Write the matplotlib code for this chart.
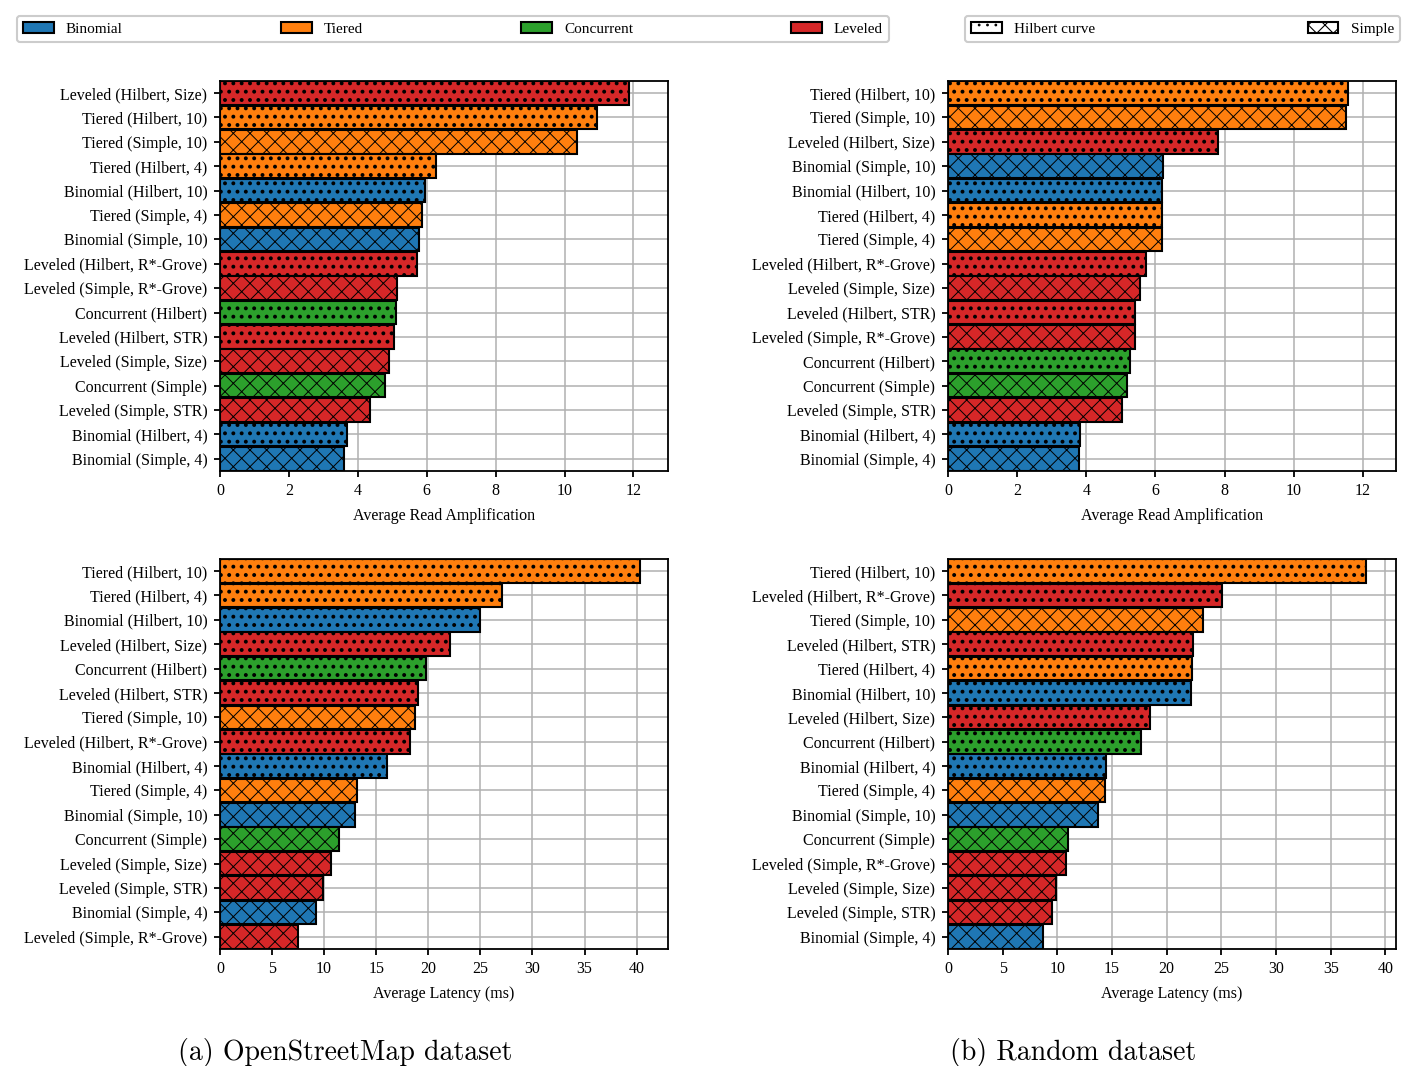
import matplotlib
matplotlib.use("Agg")
import matplotlib.pyplot as plt
from matplotlib.patches import Patch

plt.rcParams['font.family'] = ['Liberation Serif', 'DejaVu Serif']
plt.rcParams['font.size'] = 11.5
plt.rcParams['hatch.linewidth'] = 0.8

# Read amplification, OpenStreetMap dataset (top to bottom)
osm_read_labels = [
    "Leveled (Hilbert, Size)", "Tiered (Hilbert, 10)", "Tiered (Simple, 10)",
    "Tiered (Hilbert, 4)", "Binomial (Hilbert, 10)", "Tiered (Simple, 4)",
    "Binomial (Simple, 10)", "Leveled (Hilbert, R*-Grove)", "Leveled (Simple, R*-Grove)",
    "Concurrent (Hilbert)", "Leveled (Hilbert, STR)", "Leveled (Simple, Size)",
    "Concurrent (Simple)", "Leveled (Simple, STR)", "Binomial (Hilbert, 4)",
    "Binomial (Simple, 4)",
]
osm_read_values = [11.86, 10.95, 10.36, 6.28, 5.95, 5.85, 5.79, 5.71,
                   5.15, 5.12, 5.04, 4.90, 4.80, 4.34, 3.70, 3.60]

# Read amplification, Random dataset
rnd_read_labels = [
    "Tiered (Hilbert, 10)", "Tiered (Simple, 10)", "Leveled (Hilbert, Size)",
    "Binomial (Simple, 10)", "Binomial (Hilbert, 10)", "Tiered (Hilbert, 4)",
    "Tiered (Simple, 4)", "Leveled (Hilbert, R*-Grove)", "Leveled (Simple, Size)",
    "Leveled (Hilbert, STR)", "Leveled (Simple, R*-Grove)", "Concurrent (Hilbert)",
    "Concurrent (Simple)", "Leveled (Simple, STR)", "Binomial (Hilbert, 4)",
    "Binomial (Simple, 4)",
]
rnd_read_values = [11.57, 11.50, 7.80, 6.21, 6.19, 6.20, 6.19, 5.72,
                   5.56, 5.40, 5.41, 5.25, 5.17, 5.03, 3.81, 3.80]

# Latency, OpenStreetMap dataset
osm_lat_labels = [
    "Tiered (Hilbert, 10)", "Tiered (Hilbert, 4)", "Binomial (Hilbert, 10)",
    "Leveled (Hilbert, Size)", "Concurrent (Hilbert)", "Leveled (Hilbert, STR)",
    "Tiered (Simple, 10)", "Leveled (Hilbert, R*-Grove)", "Binomial (Hilbert, 4)",
    "Tiered (Simple, 4)", "Binomial (Simple, 10)", "Concurrent (Simple)",
    "Leveled (Simple, Size)", "Leveled (Simple, STR)", "Binomial (Simple, 4)",
    "Leveled (Simple, R*-Grove)",
]
osm_lat_values = [40.3, 27.1, 25.0, 22.1, 19.75, 19.05, 18.75, 18.25,
                  16.05, 13.2, 12.95, 11.4, 10.7, 9.85, 9.2, 7.5]

# Latency, Random dataset
rnd_lat_labels = [
    "Tiered (Hilbert, 10)", "Leveled (Hilbert, R*-Grove)", "Tiered (Simple, 10)",
    "Leveled (Hilbert, STR)", "Tiered (Hilbert, 4)", "Binomial (Hilbert, 10)",
    "Leveled (Hilbert, Size)", "Concurrent (Hilbert)", "Binomial (Hilbert, 4)",
    "Tiered (Simple, 4)", "Binomial (Simple, 10)", "Concurrent (Simple)",
    "Leveled (Simple, R*-Grove)", "Leveled (Simple, Size)", "Leveled (Simple, STR)",
    "Binomial (Simple, 4)",
]
rnd_lat_values = [38.25, 25.05, 23.3, 22.45, 22.3, 22.25, 18.45, 17.65,
                  14.45, 14.35, 13.7, 10.95, 10.8, 9.85, 9.5, 8.65]

colors = {'Binomial': '#1f77b4', 'Tiered': '#ff7f0e',
          'Concurrent': '#2ca02c', 'Leveled': '#d62728'}
hatches = {'Hilbert': '..', 'Simple': 'xx'}
hatch_lw = {'Hilbert': 1.6, 'Simple': 0.7}


def set_hlw(patch, curve):
    if hasattr(patch, 'set_hatch_linewidth'):
        patch.set_hatch_linewidth(hatch_lw[curve])


def draw(ax, labels, values, xlabel, xmax, xticks):
    for i, (lab, v) in enumerate(zip(labels, values)):
        kind = lab.split(' ')[0]
        curve = 'Hilbert' if 'Hilbert' in lab else 'Simple'
        with plt.rc_context({'hatch.linewidth': hatch_lw[curve]}):
            bars = ax.barh(i, v, height=0.97, color=colors[kind], edgecolor='black',
                           linewidth=1.5, hatch=hatches[curve])
        for b in bars:
            set_hlw(b, curve)
    ax.set_yticks(range(len(labels)))
    ax.set_yticklabels(labels)
    ax.set_ylim(len(labels) - 0.5, -0.5)
    ax.set_xlim(0, xmax)
    ax.set_xticks(xticks)
    ax.set_xlabel(xlabel, labelpad=6)
    ax.grid(True, color='#b0b0b0', linewidth=1.1)
    ax.set_axisbelow(True)
    for s in ax.spines.values():
        s.set_linewidth(1.3)
    ax.tick_params(width=1.3, length=4, pad=5)


fig = plt.figure(figsize=(14.19, 10.66), dpi=100)
w, h = 0.3157, 0.3659
ax1 = fig.add_axes([0.155, 0.5582, w, h])
ax2 = fig.add_axes([0.668, 0.5582, w, h])
ax3 = fig.add_axes([0.155, 0.1098, w, h])
ax4 = fig.add_axes([0.668, 0.1098, w, h])

draw(ax1, osm_read_labels, osm_read_values, "Average Read Amplification", 13.0, range(0, 13, 2))
draw(ax2, rnd_read_labels, rnd_read_values, "Average Read Amplification", 12.95, range(0, 13, 2))
draw(ax3, osm_lat_labels, osm_lat_values, "Average Latency (ms)", 43.0, range(0, 41, 5))
draw(ax4, rnd_lat_labels, rnd_lat_values, "Average Latency (ms)", 40.95, range(0, 41, 5))

kind_handles = [Patch(facecolor=c, edgecolor='black', linewidth=1.5, label=k)
                for k, c in colors.items()]
leg1 = fig.legend(handles=kind_handles, loc='lower left',
                  bbox_to_anchor=(0.012, 0.9606, 0.6145, 0.0234), ncol=4,
                  mode='expand', borderaxespad=0, fancybox=True,
                  edgecolor='#cccccc', framealpha=1, fontsize=11)
leg1.get_frame().set_linewidth(1.5)

curve_handles = []
for name, curve in [('Hilbert curve', 'Hilbert'), ('Simple', 'Simple')]:
    with plt.rc_context({'hatch.linewidth': hatch_lw[curve]}):
        p = Patch(facecolor='white', edgecolor='black', linewidth=1.5,
                  hatch=hatches[curve], label=name)
    set_hlw(p, curve)
    curve_handles.append(p)
leg2 = fig.legend(handles=curve_handles, loc='lower left',
                  bbox_to_anchor=(0.680, 0.9606, 0.3066, 0.0234), ncol=2,
                  mode='expand', borderaxespad=0, fancybox=True,
                  edgecolor='#cccccc', framealpha=1, fontsize=11)
leg2.get_frame().set_linewidth(1.5)

fig.text(0.243, 0.0055, "(a) OpenStreetMap dataset", fontsize=20,
         family='cmr10', ha='center', va='baseline')
fig.text(0.756, 0.0055, "(b) Random dataset", fontsize=20,
         family='cmr10', ha='center', va='baseline')

fig.savefig("out.png", dpi=100)
